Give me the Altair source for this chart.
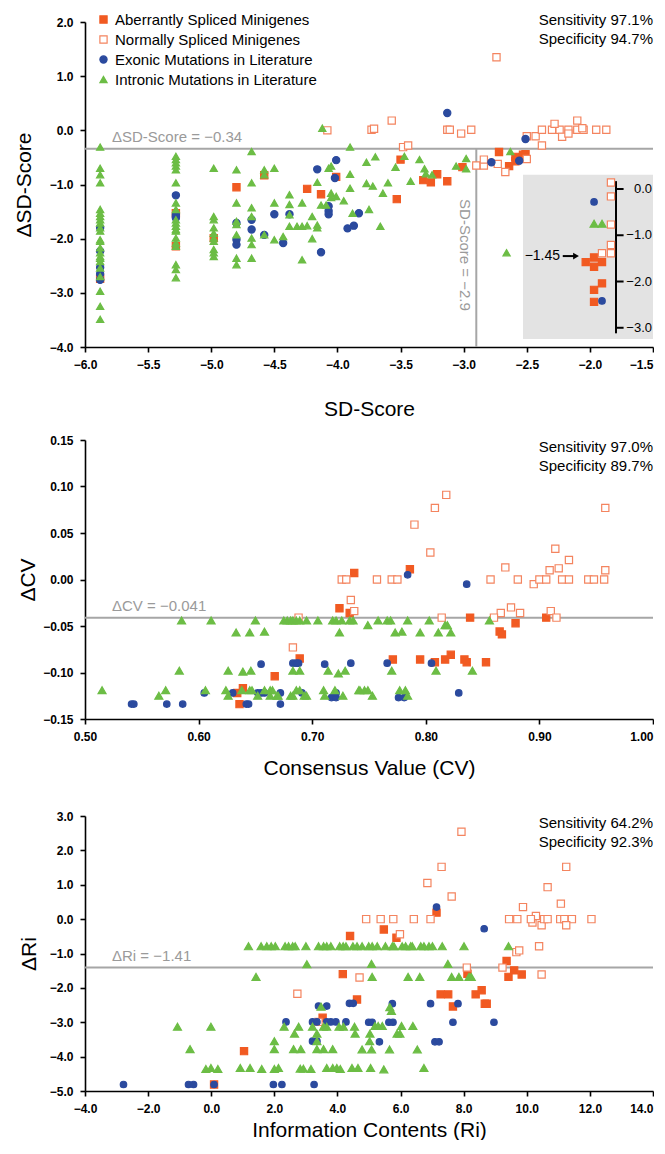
import altair as alt
import pandas as pd

# ---------------- categories / styles ----------------
TYPES = ["Aberrantly Spliced Minigenes", "Normally Spliced Minigenes",
         "Exonic Mutations in Literature", "Intronic Mutations in Literature"]
SHAPES = ["square", "square", "circle", "triangle-up"]
FILLS = ["#F15A22", "#FFFFFF", "#2B4A9E", "#6CBD45"]
STROKES = ["#F15A22", "#F4845F", "#2B4A9E", "#6CBD45"]
SIZES = [52, 52, 42, 64]

# ---------------- panel 1 : SD-Score ----------------
P1_ABERRANT = [(-5.88, -2.74), (-5.28, -1.53), (-5.28, -2.14), (-4.98, -1.99), (-4.80, -1.05),
               (-4.58, -0.83), (-4.24, -1.08), (-4.13, -1.18), (-4.01, -0.86), (-3.50, -0.54),
               (-3.53, -1.27), (-3.21, -0.81), (-3.32, -0.92), (-3.26, -0.96), (-3.13, -0.94),
               (-3.01, -0.68), (-2.72, -0.40), (-2.59, -0.49), (-2.53, -0.45), (-2.51, -0.44),
               (-2.64, -0.66), (-2.59, -0.57)]
P1_NORMAL = [(-4.08, 0.0), (-2.74, 1.35), (-3.73, 0.01), (-3.71, 0.03), (-3.57, 0.18), (-3.13, 0.01),
             (-3.11, 0.01), (-3.02, -0.06), (-2.94, 0.01), (-3.48, -0.31), (-3.44, -0.28),
             (-2.73, -0.62), (-2.90, -0.65), (-2.84, -0.65), (-2.84, -0.54), (-2.67, -0.77),
             (-2.50, -0.53), (-2.50, -0.11), (-2.43, -0.11), (-2.38, -0.28), (-2.38, 0.01),
             (-2.30, 0.01), (-2.24, 0.01), (-2.17, 0.01), (-2.10, 0.01), (-2.05, 0.01),
             (-1.95, 0.01), (-1.87, 0.01), (-2.28, 0.12), (-2.10, 0.18), (-2.22, -0.12),
             (-2.17, -0.06), (-2.06, 0.04)]
P1_EXONIC = [(-5.88, -1.80), (-5.88, -2.23), (-5.88, -2.53), (-5.88, -2.65), (-5.88, -2.76),
             (-5.28, -1.20), (-5.28, -1.56), (-5.28, -1.59), (-5.28, -1.62), (-4.80, -1.71),
             (-4.80, -2.02), (-4.80, -2.11), (-4.68, -1.65), (-4.68, -1.83), (-4.58, -1.93),
             (-4.50, -1.55), (-4.43, -2.08), (-4.38, -1.55), (-4.16, -0.72), (-4.13, -2.25),
             (-4.07, -1.40), (-4.07, -1.49), (-4.07, -1.55), (-4.02, -0.88), (-4.01, -0.55),
             (-3.92, -1.81), (-3.87, -1.76), (-3.83, -1.53), (-3.13, 0.32), (-2.78, -0.59),
             (-2.56, -0.56), (-2.51, -0.16)]
P1_INTRONIC = [
    (-5.88, -0.31), (-5.88, -0.70), (-5.88, -0.82), (-5.88, -0.97), (-5.88, -1.46), (-5.88, -1.53),
    (-5.88, -1.59), (-5.88, -1.65), (-5.88, -1.71), (-5.88, -1.80), (-5.88, -1.86), (-5.88, -2.02),
    (-5.88, -2.05), (-5.88, -2.17), (-5.88, -2.26), (-5.88, -2.33), (-5.88, -2.36), (-5.88, -2.42),
    (-5.88, -2.54), (-5.88, -2.70), (-5.88, -2.97), (-5.88, -3.25), (-5.88, -3.49),
    (-5.28, -0.48), (-5.28, -0.54), (-5.28, -0.60), (-5.28, -0.66), (-5.28, -0.73), (-5.28, -0.97),
    (-5.28, -1.34), (-5.28, -1.46), (-5.28, -1.65), (-5.28, -1.71), (-5.28, -1.77), (-5.28, -1.83),
    (-5.28, -1.86), (-5.28, -1.99), (-5.28, -2.08), (-5.28, -2.14), (-5.28, -2.48), (-5.28, -2.57),
    (-5.28, -2.72),
    (-4.98, -0.70), (-4.98, -1.59), (-4.98, -1.65), (-4.98, -1.80), (-4.98, -1.90), (-4.98, -1.99),
    (-4.98, -2.05), (-4.98, -2.20), (-4.98, -2.26), (-4.98, -2.33),
    (-4.80, -0.73), (-4.80, -1.34), (-4.80, -1.68), (-4.80, -1.74), (-4.80, -1.93), (-4.80, -2.36),
    (-4.80, -2.48),
    (-4.68, -0.39), (-4.68, -0.97), (-4.68, -1.43), (-4.68, -1.59), (-4.68, -1.99), (-4.68, -2.11),
    (-4.68, -2.36),
    (-4.58, -0.73), (-4.58, -0.82), (-4.58, -1.93), (-4.50, -0.70), (-4.50, -2.02), (-4.50, -1.34),
    (-4.43, -1.96), (-4.38, -1.19), (-4.38, -1.37), (-4.38, -1.56), (-4.38, -1.77), (-4.32, -1.77),
    (-4.28, -1.34), (-4.28, -1.77), (-4.28, -2.39), (-4.24, -1.76), (-4.20, -1.59), (-4.20, -2.00),
    (-4.16, -0.96), (-4.16, -1.75), (-4.16, -1.80), (-4.13, -1.38), (-4.12, 0.04), (-4.09, -1.38),
    (-4.07, -0.70), (-4.05, -0.66), (-4.05, -1.16), (-4.05, -1.24), (-4.01, -1.22), (-3.95, -1.30),
    (-3.90, -0.31), (-3.90, -0.81), (-3.90, -1.07), (-3.88, -1.53), (-3.77, -0.59), (-3.70, -0.49),
    (-3.47, -0.48), (-3.35, -0.54), (-3.54, -0.68), (-3.31, -0.71), (-3.30, -0.80), (-3.25, -0.82),
    (-3.06, -0.66), (-2.98, -0.52), (-2.98, -0.71), (-3.77, -0.98), (-3.72, -1.03), (-3.60, -0.97),
    (-3.42, -0.94), (-3.64, -1.16), (-3.75, -1.46), (-3.66, -1.77), (-2.63, -0.39), (-2.66, -2.26)]

# inset of panel 1 (x in SD-Score units, y in the inset's own ΔSD-Score axis)
INSET_ABERRANT = [(-2.033, -1.58), (-1.967, -1.48), (-1.967, -1.68), (-1.904, -1.58),
                  (-1.904, -2.04), (-1.967, -2.18), (-1.967, -2.44)]
INSET_NORMAL = [(-1.833, 0.14), (-1.833, -0.16), (-1.833, -0.77), (-1.833, -1.21),
                (-1.904, -1.39), (-1.833, -1.39)]
INSET_EXONIC = [(-1.967, -0.28), (-1.904, -2.42)]
INSET_INTRONIC = [(-1.967, -0.75), (-1.904, -0.75)]
INSET_TICKS = [0.0, -1.0, -2.0, -3.0]
INSET_TICK_LABELS = ["0.0", "−1.0", "−2.0", "−3.0"]
INSET_THRESHOLD = -1.45

# ---------------- panel 2 : Consensus Value ----------------
P2_ABERRANT = [(0.634, -0.122), (0.639, -0.117), (0.636, -0.134), (0.667, -0.104), (0.689, -0.085),
               (0.724, -0.031), (0.733, -0.036), (0.737, 0.007), (0.786, 0.011), (0.839, -0.041),
               (0.879, -0.047), (0.906, -0.041), (0.865, -0.056), (0.867, -0.059), (0.771, -0.086),
               (0.795, -0.086), (0.817, -0.086), (0.822, -0.081), (0.834, -0.086), (0.836, -0.089),
               (0.853, -0.089), (0.808, -0.089)]
P2_NORMAL = [(0.688, -0.041), (0.683, -0.073), (0.737, -0.034), (0.734, -0.022), (0.726, 0.0),
             (0.730, 0.0), (0.818, 0.091), (0.808, 0.077), (0.790, 0.059), (0.804, 0.029),
             (0.958, 0.077), (0.757, 0.0), (0.770, 0.0), (0.775, 0.0), (0.857, 0.0), (0.881, 0.0),
             (0.870, 0.013), (0.895, -0.005), (0.900, 0.0), (0.906, 0.0), (0.909, 0.010),
             (0.914, 0.033), (0.917, 0.012), (0.926, 0.021), (0.920, 0.0), (0.926, 0.0),
             (0.943, 0.0), (0.948, 0.0), (0.957, 0.0), (0.958, 0.010), (0.875, -0.030),
             (0.866, -0.036), (0.860, -0.041), (0.883, -0.036), (0.814, -0.041), (0.910, -0.034),
             (0.915, -0.041)]
P2_EXONIC = [(0.541, -0.134), (0.543, -0.134), (0.572, -0.134), (0.586, -0.134), (0.605, -0.122),
             (0.630, -0.122), (0.642, -0.134), (0.644, -0.134), (0.655, -0.091), (0.652, -0.122),
             (0.655, -0.122), (0.658, -0.122), (0.672, -0.122), (0.672, -0.134), (0.683, -0.090),
             (0.686, -0.090), (0.688, -0.090), (0.691, -0.122), (0.711, -0.091), (0.717, -0.127),
             (0.721, -0.127), (0.721, -0.122), (0.734, -0.090), (0.784, 0.005), (0.836, -0.005),
             (0.766, -0.090), (0.805, -0.090), (0.776, -0.127), (0.781, -0.127), (0.829, -0.122)]
P2_INTRONIC = [
    (0.515, -0.119), (0.565, -0.125), (0.571, -0.119), (0.583, -0.098), (0.585, -0.044),
    (0.611, -0.044), (0.606, -0.119), (0.626, -0.098), (0.624, -0.119), (0.626, -0.125),
    (0.633, -0.057), (0.638, -0.119), (0.645, -0.119), (0.647, -0.119), (0.639, -0.099),
    (0.646, -0.098), (0.645, -0.057), (0.650, -0.044), (0.658, -0.056), (0.652, -0.125),
    (0.658, -0.119), (0.663, -0.119), (0.665, -0.119), (0.663, -0.125), (0.669, -0.125),
    (0.670, -0.125), (0.675, -0.044), (0.678, -0.044), (0.681, -0.044), (0.683, -0.044),
    (0.686, -0.044), (0.689, -0.044), (0.695, -0.044), (0.683, -0.098), (0.689, -0.098),
    (0.681, -0.125), (0.683, -0.125), (0.686, -0.119), (0.689, -0.119), (0.693, -0.125),
    (0.695, -0.125), (0.705, -0.044), (0.710, -0.119), (0.711, -0.125), (0.714, -0.098),
    (0.720, -0.119), (0.723, -0.101), (0.729, -0.098), (0.727, -0.125), (0.718, -0.044),
    (0.721, -0.044), (0.726, -0.044), (0.733, -0.044), (0.736, -0.044), (0.724, -0.057),
    (0.741, -0.119), (0.749, -0.049), (0.758, -0.044), (0.766, -0.044), (0.769, -0.044),
    (0.784, -0.044), (0.803, -0.044), (0.856, -0.044), (0.773, -0.057), (0.779, -0.056),
    (0.795, -0.057), (0.811, -0.057), (0.817, -0.049), (0.819, -0.049), (0.822, -0.057),
    (0.770, -0.098), (0.809, -0.098), (0.841, -0.098), (0.742, -0.119), (0.746, -0.119),
    (0.749, -0.119), (0.753, -0.125), (0.777, -0.119), (0.782, -0.119), (0.784, -0.125)]

# ---------------- panel 3 : Information Contents ----------------
P3_ABERRANT = [(0.09, -4.81), (1.04, -3.84), (3.53, -2.87), (4.40, -0.49), (4.17, -1.60),
               (4.62, -2.34), (7.14, 0.19), (5.47, -0.30), (5.87, -0.54), (8.12, -1.59),
               (9.36, -1.22), (9.42, -1.68), (9.60, -1.49), (9.84, -1.61), (7.27, -2.19),
               (7.51, -2.19), (8.38, -2.19), (8.57, -2.07), (8.67, -2.46), (8.73, -2.46),
               (7.66, -2.54)]
P3_NORMAL = [(2.73, -2.17), (4.70, -1.70), (3.40, -2.99), (7.93, 2.54), (7.30, 1.52), (6.85, 1.05),
             (7.62, 0.66), (4.91, 0.0), (5.37, 0.0), (5.77, 0.0), (6.42, 0.0), (6.95, 0.0),
             (5.98, -0.44), (8.10, -1.41), (9.23, -1.41), (9.67, -0.96), (9.76, -0.91),
             (10.39, -0.79), (10.47, -1.61), (9.44, 0.0), (9.70, 0.0), (9.88, 0.35), (10.18, -0.10),
             (10.29, 0.09), (10.47, -0.18), (10.55, 0.0), (10.66, 0.0), (10.13, 0.0), (10.66, 0.93),
             (11.08, 0.45), (11.25, 1.52), (11.06, 0.0), (11.19, 0.0), (11.43, 0.0), (12.05, 0.0),
             (11.25, -0.18)]
P3_EXONIC = [(-2.78, -4.81), (-0.72, -4.81), (-0.56, -4.81), (0.09, -4.81), (1.97, -4.81),
             (2.24, -4.81), (3.26, -4.81), (2.37, -2.99), (3.21, -2.99), (3.35, -2.99),
             (3.21, -3.55), (3.35, -3.55), (3.40, -2.53), (3.66, -2.53), (3.66, -2.99),
             (3.79, -2.99), (3.95, -2.99), (4.27, -2.99), (4.38, -2.45), (4.50, -2.45),
             (7.14, 0.35), (8.65, -0.28), (5.74, -2.46), (6.95, -2.46), (7.82, -2.46),
             (4.99, -3.00), (5.10, -3.00), (5.63, -3.00), (5.76, -3.00), (7.66, -3.00),
             (8.96, -3.00), (5.33, -3.57), (7.09, -3.57), (7.22, -3.57)]
P3_INTRONIC = [
    (-1.07, -3.13), (-0.01, -3.13), (-0.67, -3.78), (-0.17, -4.36), (-0.01, -4.33), (0.21, -4.36),
    (0.92, -4.33), (1.23, -4.33), (1.60, -4.36), (2.00, -4.36), (2.13, -4.33), (2.00, -3.55),
    (2.00, -3.78), (2.31, -3.13), (2.77, -3.13), (2.64, -3.33), (2.61, -3.78), (2.84, -3.78),
    (2.82, -4.35), (2.92, -4.35), (3.16, -4.36), (1.42, -1.68), (3.03, -1.31), (3.21, -3.13),
    (3.35, -3.33), (3.35, -3.78), (3.56, -3.78), (3.35, -3.55), (3.48, -2.55), (3.56, -3.13),
    (3.66, -3.13), (4.05, -3.13), (4.19, -3.13), (3.85, -3.78), (3.66, -4.33), (3.85, -4.33),
    (3.98, -4.33), (4.09, -4.36),
    (1.18, -0.79), (1.58, -0.79), (1.76, -0.79), (1.90, -0.79), (2.03, -0.79), (2.34, -0.79),
    (2.45, -0.79), (2.58, -0.79), (2.66, -0.79), (3.00, -0.79), (3.40, -0.79), (3.56, -0.79),
    (3.66, -0.79), (3.79, -0.79), (4.07, -0.79), (4.18, -0.79), (4.27, -0.79), (4.49, -0.79),
    (4.62, -0.79), (4.78, -0.79), (4.99, -0.79), (5.10, -0.79), (5.26, -0.79), (5.52, -0.79),
    (5.74, -0.79), (5.79, -0.79), (6.05, -0.79), (6.16, -0.79), (6.32, -0.79), (6.37, -0.79),
    (6.64, -0.79), (6.74, -0.79), (6.90, -0.79), (7.01, -0.79), (7.32, -0.79), (8.01, -0.79),
    (9.42, -0.79),
    (4.54, -3.13), (4.56, -3.33), (4.46, -4.33), (4.65, -4.33), (5.08, -1.30), (7.50, -1.30),
    (5.10, -1.68), (6.24, -1.68), (6.61, -1.68), (7.62, -1.68), (7.85, -1.68), (8.17, -1.68),
    (8.24, -1.68), (5.66, -2.56), (5.71, -2.67), (5.19, -3.11), (5.29, -3.11), (5.42, -3.11),
    (6.03, -3.11), (6.39, -3.11), (5.89, -3.33), (5.98, -3.33), (5.03, -3.33), (5.02, -3.55),
    (4.78, -3.79), (5.08, -3.79), (5.65, -3.79), (6.53, -3.79), (5.05, -4.33), (5.47, -4.37),
    (6.74, -4.33)]

# axis ticks / thresholds / annotation texts
P1_XTICKS = [-6.0, -5.5, -5.0, -4.5, -4.0, -3.5, -3.0, -2.5, -2.0, -1.5]
P1_YTICKS = [2.0, 1.0, 0.0, -1.0, -2.0, -3.0, -4.0]
P2_XTICKS = [0.5, 0.6, 0.7, 0.8, 0.9, 1.0]
P2_YTICKS = [0.15, 0.10, 0.05, 0.0, -0.05, -0.10, -0.15]
P3_XTICKS = [-4.0, -2.0, 0.0, 2.0, 4.0, 6.0, 8.0, 10.0, 12.0, 14.0]
P3_YTICKS = [3.0, 2.0, 1.0, 0.0, -1.0, -2.0, -3.0, -4.0, -5.0]
P1_THR_Y, P1_THR_X = -0.34, -2.9
P2_THR_Y = -0.041
P3_THR_Y = -1.41
P1_STATS = ["Sensitivity 97.1%", "Specificity 94.7%"]
P2_STATS = ["Sensitivity 97.0%", "Specificity 89.7%"]
P3_STATS = ["Sensitivity 64.2%", "Specificity 92.3%"]

FONT = "Liberation Sans"
GRAY = "#A6A6A6"
TXT_GRAY = "#9A9A9A"
W = 568
ONE = pd.DataFrame({"k": [0]})


def frame(groups):
    rows = []
    for t, shp, f, s, sz, pts in zip(TYPES, SHAPES, FILLS, STROKES, SIZES, groups):
        for x, y in pts:
            rows.append({"x": x, "y": y, "type": t, "shp": shp, "f": f, "s": s, "sz": sz})
    return pd.DataFrame(rows)


def axis_x(ticks, fmt, title, tpad):
    last = max(ticks)
    return alt.Axis(values=ticks, format=fmt, title=title, titlePadding=tpad,
                    labelFlush=False, labelOverlap=False, tickCount=len(ticks) + 2,
                    labelAlign={"condition": {"test": f"datum.value >= {last - 1e-6}",
                                              "value": "right"}, "value": "center"})


def axis_y(ticks, fmt, title, tpad):
    return alt.Axis(values=ticks, format=fmt, title=title, labelOverlap=False,
                    tickCount=len(ticks) + 2, titlePadding=tpad)


def points(df, xs, ys, ax, ay, with_legend):
    base = alt.Chart(df).mark_point(opacity=1, fillOpacity=1, strokeWidth=1.2)
    if with_legend:
        lg = alt.Legend(title=None, orient="none", legendX=11, legendY=-10, labelFontSize=15,
                        labelFont=FONT, labelColor="black", rowPadding=4, padding=0,
                        labelOffset=4, symbolStrokeWidth=1.2, labelLimit=400)
        enc = dict(
            shape=alt.Shape("type:N", scale=alt.Scale(domain=TYPES, range=SHAPES), legend=lg),
            fill=alt.Fill("type:N", scale=alt.Scale(domain=TYPES, range=FILLS), legend=lg),
            stroke=alt.Stroke("type:N", scale=alt.Scale(domain=TYPES, range=STROKES), legend=lg),
            size=alt.Size("type:N", scale=alt.Scale(domain=TYPES, range=SIZES), legend=lg),
        )
    else:
        enc = dict(
            shape=alt.Shape("shp:N", scale=None),
            fill=alt.Fill("f:N", scale=None),
            stroke=alt.Stroke("s:N", scale=None),
            size=alt.Size("sz:Q", scale=None),
        )
    return base.encode(x=alt.X("x:Q", scale=xs, axis=ax), y=alt.Y("y:Q", scale=ys, axis=ay), **enc)


def hline(y):
    return alt.Chart(ONE).mark_rule(color=GRAY, strokeWidth=2).encode(y=alt.datum(y))


def thr_label(x0, y, text):
    return alt.Chart(ONE).mark_text(align="left", baseline="bottom", dx=27, dy=-4, fontSize=15,
                                    font=FONT, color=TXT_GRAY).encode(
        x=alt.datum(x0), y=alt.datum(y), text=alt.value(text))


def stats(x1, y1, lines, dy0):
    out = []
    for i, ln in enumerate(lines):
        out.append(alt.Chart(ONE).mark_text(align="right", baseline="middle", fontSize=15,
                                            font=FONT, color="black", dy=dy0 + 19 * i).encode(
            x=alt.datum(x1), y=alt.datum(y1), text=alt.value(ln)))
    return out


# ---------------- panel 1 ----------------
xs1 = alt.Scale(domain=[-6.0, -1.5], nice=False, zero=False)
ys1 = alt.Scale(domain=[-4.0, 2.0], nice=False, zero=False)
df1 = frame([P1_ABERRANT, P1_NORMAL, P1_EXONIC, P1_INTRONIC])

# inset placement inside panel 1 (inset axis value -> panel y)
INSET_Y0 = -1.083
INSET_K = 0.854
INSET_AXIS_X = -1.793
INSET_BOX = (-2.53, -1.5, -0.82, -3.85)


def iy(v):
    return INSET_Y0 + v * INSET_K


inset_df = frame([[(x, iy(v)) for x, v in g] for g in
                  [INSET_ABERRANT, INSET_NORMAL, INSET_EXONIC, INSET_INTRONIC]])
inset_rect = alt.Chart(ONE).mark_rect(color="#E3E3E3").encode(
    x=alt.datum(INSET_BOX[0]), x2=alt.datum(INSET_BOX[1]),
    y=alt.datum(INSET_BOX[2]), y2=alt.datum(INSET_BOX[3]))
inset_axis = alt.Chart(ONE).mark_rule(color="black", strokeWidth=2).encode(
    x=alt.datum(INSET_AXIS_X), y=alt.datum(iy(0.17)), y2=alt.datum(iy(-3.12)))
tick_df = pd.DataFrame({"yy": [iy(v) for v in INSET_TICKS], "lab": INSET_TICK_LABELS})
inset_ticks = alt.Chart(tick_df).mark_rule(color="black", strokeWidth=2).encode(
    x=alt.datum(INSET_AXIS_X), x2=alt.datum(INSET_AXIS_X + 0.06), y=alt.Y("yy:Q"))
inset_labels = alt.Chart(tick_df).mark_text(align="right", baseline="middle", fontSize=13,
                                            font=FONT, color="black", dx=-1).encode(
    x=alt.datum(-1.5), y=alt.Y("yy:Q"), text="lab:N")
arrow_txt = alt.Chart(ONE).mark_text(align="right", baseline="middle", fontSize=14, font=FONT,
                                     color="black").encode(
    x=alt.datum(-2.236), y=alt.datum(iy(INSET_THRESHOLD)), text=alt.value("−1.45"))
arrow_line = alt.Chart(ONE).mark_rule(color="black", strokeWidth=2).encode(
    x=alt.datum(-2.215), x2=alt.datum(-2.12), y=alt.datum(iy(INSET_THRESHOLD)))
arrow_head = alt.Chart(ONE).mark_point(shape="triangle-right", filled=True, color="black",
                                       opacity=1, size=45).encode(
    x=alt.datum(-2.11), y=alt.datum(iy(INSET_THRESHOLD)))

vline1 = alt.Chart(ONE).mark_rule(color=GRAY, strokeWidth=2).encode(
    x=alt.datum(P1_THR_X), y=alt.datum(P1_THR_Y), y2=alt.datum(-4.0))
vlabel1 = alt.Chart(ONE).mark_text(angle=90, align="center", baseline="middle", fontSize=15,
                                   font=FONT, color=TXT_GRAY).encode(
    x=alt.datum(-2.99), y=alt.datum(-2.30), text=alt.value("SD-Score = −2.9"))

ax1 = axis_x(P1_XTICKS, ".1f", "SD-Score", 28)
ay1 = axis_y(P1_YTICKS, ".1f", "ΔSD-Score", 15)
pts1 = points(df1, xs1, ys1, ax1, ay1, True)
inset_pts = points(inset_df, xs1, ys1, ax1, ay1, False)

panel1 = alt.layer(
    inset_rect, hline(P1_THR_Y), vline1, pts1, inset_axis, inset_ticks, inset_labels,
    inset_pts, arrow_txt, arrow_line, arrow_head, thr_label(-6.0, P1_THR_Y, "ΔSD-Score = −0.34"),
    vlabel1, *stats(-1.5, 2.0, P1_STATS, -2)
).properties(width=W, height=325)

# ---------------- panel 2 ----------------
xs2 = alt.Scale(domain=[0.5, 1.0], nice=False, zero=False)
ys2 = alt.Scale(domain=[-0.15, 0.15], nice=False, zero=False)
df2 = frame([P2_ABERRANT, P2_NORMAL, P2_EXONIC, P2_INTRONIC])
pts2 = points(df2, xs2, ys2, axis_x(P2_XTICKS, ".2f", "Consensus Value (CV)", 15),
              axis_y(P2_YTICKS, ".2f", "ΔCV", 4), False)
panel2 = alt.layer(
    hline(P2_THR_Y), pts2, thr_label(0.5, P2_THR_Y, "ΔCV = −0.041"),
    *stats(1.0, 0.15, P2_STATS, 7)
).properties(width=W, height=279)

# ---------------- panel 3 ----------------
xs3 = alt.Scale(domain=[-4.0, 14.0], nice=False, zero=False)
ys3 = alt.Scale(domain=[-5.0, 3.0], nice=False, zero=False)
df3 = frame([P3_ABERRANT, P3_NORMAL, P3_EXONIC, P3_INTRONIC])
pts3 = points(df3, xs3, ys3, axis_x(P3_XTICKS, ".1f", "Information Contents (Ri)", 5),
              axis_y(P3_YTICKS, ".1f", "ΔRi", 10), False)
# invisible spacer that widens the gap above panel 3
spacer3 = alt.Chart(ONE).mark_text(baseline="top", fontSize=10, opacity=0, dy=-23).encode(
    x=alt.datum(-4.0), y=alt.datum(3.0), text=alt.value("."))
panel3 = alt.layer(
    hline(P3_THR_Y), pts3, thr_label(-4.0, P3_THR_Y, "ΔRi = −1.41"),
    *stats(14.0, 3.0, P3_STATS, 7), spacer3
).properties(width=W, height=275)

chart = alt.vconcat(panel1, panel2, panel3, spacing=15).resolve_scale(
    shape="independent", fill="independent", stroke="independent", size="independent"
).resolve_legend(
    shape="independent", fill="independent", stroke="independent", size="independent"
).properties(
    padding={"left": 5, "top": 4, "right": 0, "bottom": 0}
).configure_view(stroke=None).configure_axis(
    labelFont=FONT, labelFontWeight="bold", labelFontSize=12, labelColor="black",
    labelPadding=7, titleFont=FONT, titleFontSize=21, titleFontWeight="normal",
    titleColor="black", domainColor="black", domainWidth=1.6, tickColor="black",
    tickWidth=1.6, tickSize=5, grid=False, labelOverlap=False
)

chart.save("out.html", embed_options={"renderer": "svg", "actions": False})
